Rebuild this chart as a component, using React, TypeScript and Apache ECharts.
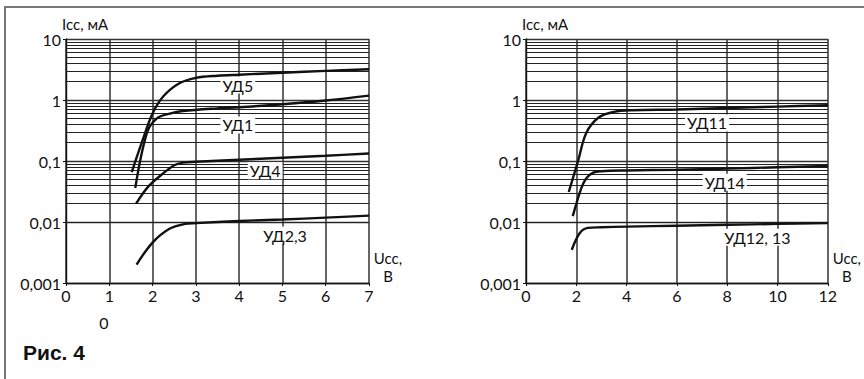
import React, { useEffect, useRef } from "react";
import * as echarts from "echarts";

const leftXTicks = [0, 1, 2, 3, 4, 5, 6, 7];
const rightXTicks = [0, 2, 4, 6, 8, 10, 12];
const yTicks = [0.001, 0.01, 0.1, 1, 10];

const ud5 = [[1.52, 0.066], [1.75, 0.2], [2.0, 0.6], [2.25, 1.15], [2.6, 1.85], [3.0, 2.3], [3.5, 2.5], [4, 2.6], [5, 2.8], [6, 3.0], [7, 3.2]];
const ud1 = [[1.6, 0.036], [1.87, 0.29], [2.1, 0.5], [2.4, 0.6], [2.7, 0.66], [3.5, 0.73], [4, 0.76], [5, 0.85], [6, 0.98], [7, 1.18]];
const ud4 = [[1.62, 0.02], [1.9, 0.038], [2.25, 0.063], [2.5, 0.085], [2.7, 0.094], [3, 0.097], [4, 0.105], [5, 0.113], [6, 0.122], [7, 0.133]];
const ud23 = [[1.63, 0.002], [2.0, 0.0046], [2.4, 0.0078], [2.75, 0.0093], [3, 0.0096], [4, 0.0104], [5, 0.011], [6, 0.0118], [7, 0.0127]];

const ud11 = [[1.7, 0.031], [2.07, 0.1], [2.4, 0.29], [2.9, 0.52], [3.5, 0.64], [4.2, 0.68], [6, 0.7], [8, 0.74], [10, 0.78], [12, 0.82]];
const ud14 = [[1.86, 0.0125], [2.2, 0.036], [2.4, 0.052], [2.65, 0.064], [3, 0.068], [4, 0.07], [6, 0.072], [8, 0.075], [10, 0.079], [12, 0.083]];
const ud1213 = [[1.82, 0.0035], [2.14, 0.0066], [2.46, 0.008], [3, 0.0082], [4, 0.0084], [6, 0.0087], [8, 0.009], [10, 0.0093], [12, 0.0096]];

const leftSeries = [
  { name: "УД5", data: ud5, label: [3.97, 1.76] },
  { name: "УД1", data: ud1, label: [3.97, 0.39] },
  { name: "УД4", data: ud4, label: [4.6, 0.069] },
  { name: "УД2,3", data: ud23, label: [5.06, 0.0061] },
];
const rightSeries = [
  { name: "УД11", data: ud11, label: [7.2, 0.42] },
  { name: "УД14", data: ud14, label: [7.9, 0.045] },
  { name: "УД12, 13", data: ud1213, label: [9.2, 0.0056] },
];

const decades = [0.001, 0.01, 0.1, 1];
const minorMultipliers = [2, 3, 4, 5, 6, 7, 8, 9];

const FONT = "Lato";

function fmtY(v: number) {
  return String(Number(v.toPrecision(3))).replace(".", ",");
}

export default function App() {
  const ref = useRef<HTMLDivElement>(null);
  useEffect(() => {
    document.body.style.margin = "0";
    const chart = echarts.init(ref.current!, undefined, { renderer: "svg" });
    const minorValues: number[] = [];
    decades.forEach((d) => minorMultipliers.forEach((m) => minorValues.push(Number((d * m).toPrecision(3)))));

    const grids = [
      { left: 66, top: 39, width: 303, height: 244 },
      { left: 526, top: 39, width: 303, height: 244 },
    ];
    const xTicksSets = [leftXTicks, rightXTicks];
    const xAxes = xTicksSets.map((ticks, i) => ({
      type: "value",
      gridIndex: i,
      min: ticks[0],
      max: ticks[ticks.length - 1],
      interval: ticks[1] - ticks[0],
      name: "Ucc,\nВ",
      nameLocation: "end",
      nameGap: 19,
      nameTextStyle: { fontFamily: FONT, fontSize: 15, color: "#111", align: "center", verticalAlign: "bottom", lineHeight: 18, padding: [0, 0, -2, 0] },
      axisLine: { show: true, lineStyle: { color: "#111", width: 1.4 } },
      axisTick: { show: true, length: 3, lineStyle: { color: "#111" } },
      axisLabel: { fontFamily: FONT, fontSize: 16, color: "#111", margin: 4 },
      splitLine: { show: true, lineStyle: { color: "#333", width: 1.5 } },
    }));
    const yAxes = [0, 1].map((i) => ({
      type: "log",
      gridIndex: i,
      logBase: 10,
      min: yTicks[0],
      max: yTicks[yTicks.length - 1],
      name: "Icc, мА",
      nameLocation: "end",
      nameGap: 8,
      nameTextStyle: { fontFamily: FONT, fontSize: 15, color: "#111", align: "left", padding: [0, 0, 0, -4] },
      axisLine: { show: true, lineStyle: { color: "#111", width: 1.4 } },
      axisTick: { show: true, length: 3, lineStyle: { color: "#111" } },
      axisLabel: { fontFamily: FONT, fontSize: 16, color: "#111", margin: 5, formatter: (v: number) => fmtY(v) },
      splitLine: { show: true, lineStyle: { color: "#333", width: 1.3 } },
    }));

    const series: any[] = [];
    [leftSeries, rightSeries].forEach((set, gi) => {
      series.push({
        type: "line",
        xAxisIndex: gi,
        yAxisIndex: gi,
        data: [],
        silent: true,
        markLine: {
          silent: true,
          symbol: "none",
          label: { show: false },
          lineStyle: { color: "#222", width: 1.1, type: "solid" },
          data: minorValues.map((v) => ({ yAxis: v })),
        },
      });
      set.forEach((s) => {
        series.push({
          type: "line",
          name: s.name,
          xAxisIndex: gi,
          yAxisIndex: gi,
          data: s.data,
          smooth: 0.35,
          showSymbol: false,
          lineStyle: { color: "#111", width: 2.4 },
          z: 5,
          markPoint: {
            symbol: "rect",
            symbolSize: 0,
            data: [{ coord: s.label }],
            label: {
              show: true,
              position: "inside",
              formatter: s.name,
              fontFamily: FONT,
              fontSize: 16,
              color: "#111",
              backgroundColor: "#fff",
              padding: [1, 2, 0, 2],
            },
          },
        });
      });
    });

    chart.setOption({
      animation: false,
      backgroundColor: "#fff",
      grid: grids,
      xAxis: xAxes,
      yAxis: yAxes,
      series,
      graphic: [
        { type: "line", shape: { x1: 5, y1: 7, x2: 864, y2: 7 }, style: { stroke: "#777", lineWidth: 2 } },
        { type: "line", shape: { x1: 5, y1: 6, x2: 5, y2: 379 }, style: { stroke: "#777", lineWidth: 2 } },
        { type: "text", x: 104, y: 322, style: { text: "0", font: `16px ${FONT}`, fill: "#111", textAlign: "center", textVerticalAlign: "middle" } },
        { type: "text", x: 23, y: 352, style: { text: "Рис. 4", font: `bold 21px "Liberation Sans", Arial`, fill: "#111", textAlign: "left", textVerticalAlign: "middle" } },
      ],
    });
    return () => chart.dispose();
  }, []);
  return <div ref={ref} style={{ width: 864, height: 379 }} />;
}
